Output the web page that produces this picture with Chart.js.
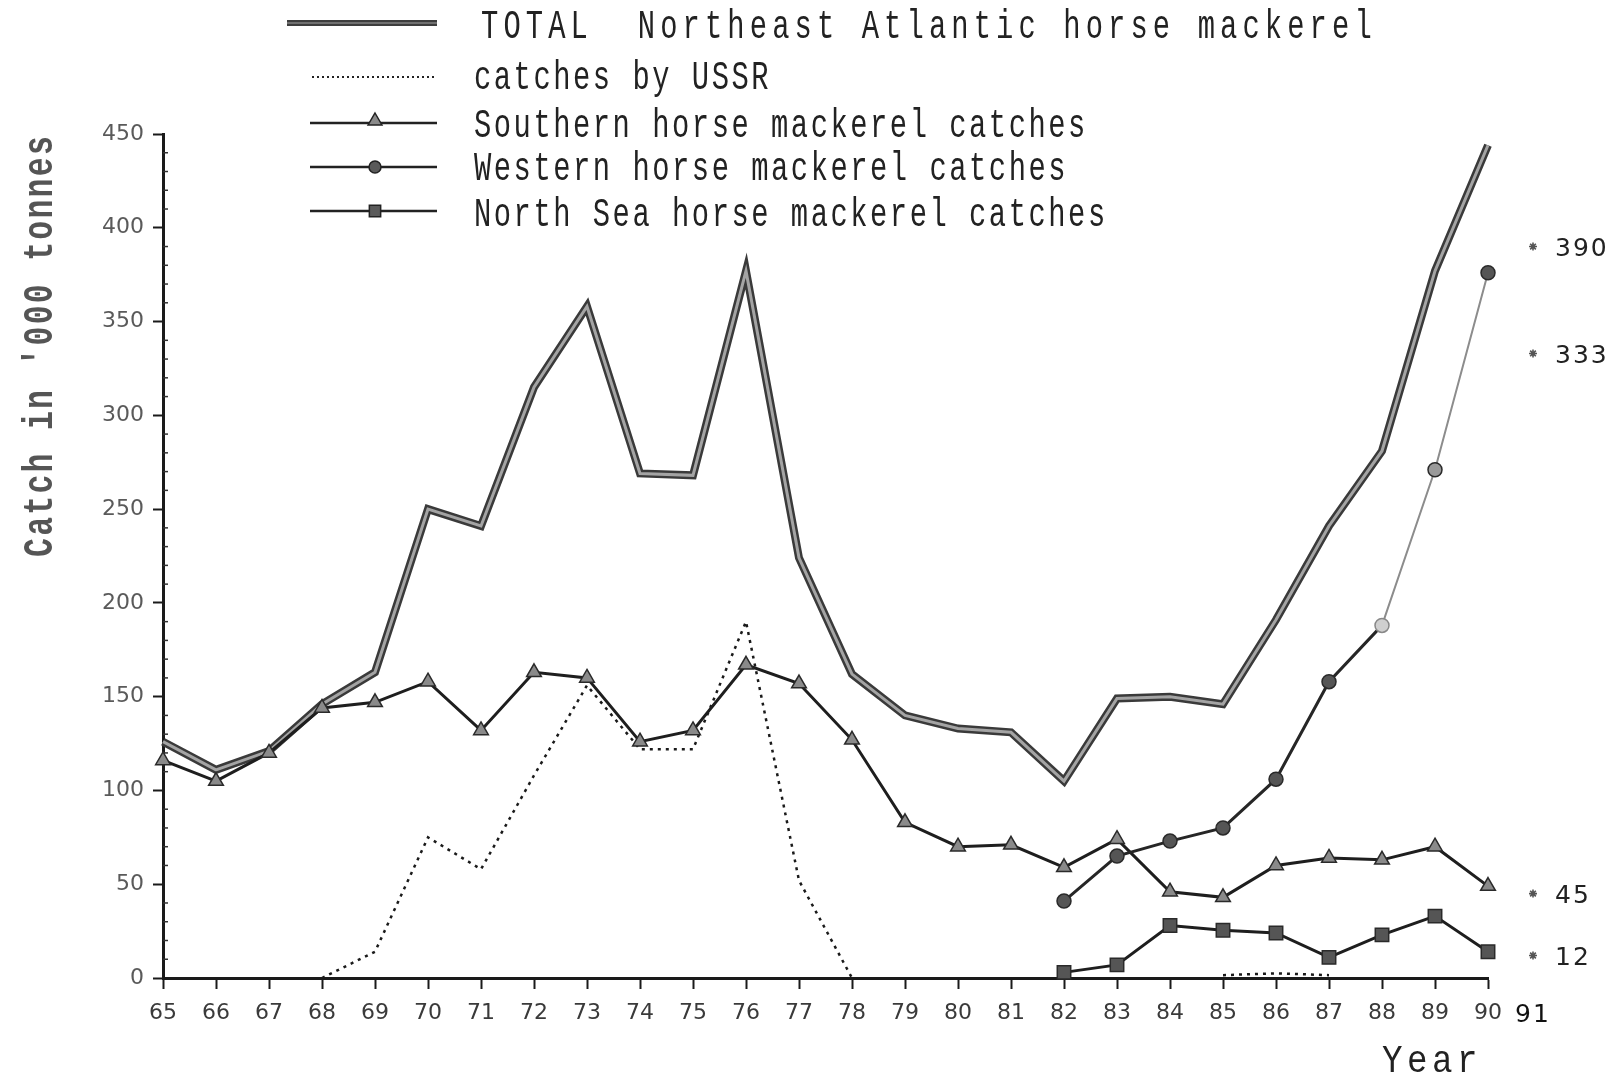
<!DOCTYPE html>
<html>
<head>
<meta charset="utf-8">
<title>Northeast Atlantic horse mackerel catches</title>
<script src="https://cdn.jsdelivr.net/npm/chart.js@4.4.1/dist/chart.umd.min.js"></script>
<style>
  html, body { margin: 0; padding: 0; background: #fff; }
  #wrap { width: 1616px; height: 1080px; position: relative; }
</style>
</head>
<body>
<div id="wrap"><canvas id="chart" width="1616" height="1080"></canvas></div>
<script>
// Years 1965-1990 (two-digit labels on the axis)
const years = [65, 66, 67, 68, 69, 70, 71, 72, 73, 74, 75, 76, 77, 78, 79, 80, 81, 82, 83, 84, 85, 86, 87, 88, 89, 90];

// Catches in '000 tonnes
const totalCatch = [126, 111, 121, 146, 163, 250, 241, 315, 358, 269, 268, 377, 224, 162, 140, 133, 131, 105, 149, 150, 146, 191, 241, 281, 377, 444];
const ussrCatch = [null, null, null, 0, 14, 75, 58, 108, 156, 122, 122, 190, 52, 0, null, null, null, null, null, null, 1.5, 2.5, 1.5, null, null, null];
const southernCatch = [116, 105, 120, 144, 147, 158, 132, 163, 160, 126, 132, 167, 157, 127, 83, 70, 71, 59, 74, 46, 43, 60, 64, 63, 70, 49];
const westernCatch = [null, null, null, null, null, null, null, null, null, null, null, null, null, null, null, null, null, 41, 65, 73, 80, 106, 158, 188, 271, 376];
const northSeaCatch = [null, null, null, null, null, null, null, null, null, null, null, null, null, null, null, null, null, 3, 7, 28, 25.5, 24, 11, 23, 33, 14];

// Preliminary 1991 figures, written beside the end of the axis
const year1991 = 91;
const values1991 = [390, 333, 45, 12];

// Axis ticks
const yMajorTicks = [0, 50, 100, 150, 200, 250, 300, 350, 400, 450];

const legendLabels = [
  'TOTAL  Northeast Atlantic horse mackerel',
  'catches by USSR',
  'Southern horse mackerel catches',
  'Western horse mackerel catches',
  'North Sea horse mackerel catches'
];

const yTitle = "Catch in '000 tonnes";
const xTitle = 'Year';

// the 1991 column sits a little closer to the axis end than a full year step
const col1991Shift = -8;

const toXY = arr => years.map((yr, i) => ({ x: yr, y: arr[i] }));

function drawMarker(ctx, style, x, y, r) {
  ctx.beginPath();
  if (style === 'triangle') {
    ctx.moveTo(x, y - r);
    ctx.lineTo(x + r * 0.866, y + r * 0.5);
    ctx.lineTo(x - r * 0.866, y + r * 0.5);
    ctx.closePath();
  } else if (style === 'circle') {
    ctx.arc(x, y, r, 0, Math.PI * 2);
  } else if (style === 'rect') {
    const s = r * Math.SQRT1_2;
    ctx.rect(x - s, y - s, 2 * s, 2 * s);
  }
  ctx.fill();
  ctx.stroke();
}

function scaledText(ctx, text, x, y, opts) {
  ctx.save();
  ctx.font = opts.font;
  ctx.fillStyle = opts.color || '#222';
  ctx.textBaseline = opts.baseline || 'alphabetic';
  ctx.textAlign = 'left';
  ctx.letterSpacing = (opts.spacing || 0) + 'px';
  ctx.translate(x, y);
  if (opts.rotate) ctx.rotate(opts.rotate);
  ctx.scale(opts.sx || 1, 1);
  ctx.fillText(text, 0, 0);
  ctx.restore();
}

const decorations = {
  id: 'decorations',
  afterDatasetsDraw(chart) {
    const ctx = chart.ctx;
    const xs = chart.scales.x;
    const ys = chart.scales.y;

    // 1991 marks with their values
    const px = xs.getPixelForValue(year1991) + col1991Shift;
    values1991.forEach(v => {
      const py = ys.getPixelForValue(v);
      ctx.save();
      ctx.strokeStyle = '#555';
      ctx.lineWidth = 1.6;
      ctx.beginPath();
      for (let k = 0; k < 4; k++) {
        const a = k * Math.PI / 4;
        ctx.moveTo(px - 4 * Math.cos(a), py - 4 * Math.sin(a));
        ctx.lineTo(px + 4 * Math.cos(a), py + 4 * Math.sin(a));
      }
      ctx.stroke();
      ctx.restore();
      ctx.save();
      ctx.font = '25px "DejaVu Sans"';
      ctx.fillStyle = '#222';
      ctx.textAlign = 'left';
      ctx.textBaseline = 'middle';
      ctx.letterSpacing = '2px';
      ctx.fillText(String(v), px + 22, py + 3);
      ctx.restore();
    });
  },
  afterDraw(chart) {
    const ctx = chart.ctx;
    const xs = chart.scales.x;
    const ys = chart.scales.y;
    const area = chart.chartArea;

    // minor ticks on the inside of the value axis
    ctx.save();
    ctx.strokeStyle = '#333';
    ctx.lineWidth = 1.5;
    for (let v = 0; v <= 450; v += 10) {
      if (yMajorTicks.includes(v)) continue;
      const py = ys.getPixelForValue(v);
      ctx.beginPath();
      ctx.moveTo(area.left, py);
      ctx.lineTo(area.left + 5, py);
      ctx.stroke();
    }
    ctx.restore();

    // extra year label past the end of the axis
    ctx.save();
    ctx.font = '25px "DejaVu Sans"';
    ctx.fillStyle = '#111';
    ctx.textAlign = 'center';
    ctx.textBaseline = 'top';
    ctx.letterSpacing = '2px';
    ctx.fillText(String(year1991), xs.getPixelForValue(year1991) + col1991Shift, area.bottom + 25);
    ctx.restore();

    // axis titles
    scaledText(ctx, yTitle, 52, 557, { font: 'bold 42px "Liberation Mono"', color: '#555', sx: 0.75, spacing: 3, rotate: -Math.PI / 2 });
    scaledText(ctx, xTitle, 1382, 1072, { font: '38px "Liberation Mono"', color: '#222', sx: 0.9, spacing: 5 });

    // legend
    const rows = [
      { lineY: 23, baseY: 38, x0: 287, tx: 481, spacing: 7.1 },
      { lineY: 77, baseY: 89, x0: 312, tx: 474, spacing: 3.5 },
      { lineY: 123, baseY: 137, x0: 310, tx: 474, spacing: 3.5 },
      { lineY: 167, baseY: 180, x0: 310, tx: 474, spacing: 3.5 },
      { lineY: 211, baseY: 226, x0: 310, tx: 474, spacing: 3.5 }
    ];
    const x1 = 437, mx = 375;
    rows.forEach((r, i) => {
      ctx.save();
      ctx.lineCap = 'butt';
      if (i === 0) {
        ctx.strokeStyle = '#3d3d3d'; ctx.lineWidth = 6;
        ctx.beginPath(); ctx.moveTo(r.x0, r.lineY); ctx.lineTo(x1, r.lineY); ctx.stroke();
        ctx.strokeStyle = '#707070'; ctx.lineWidth = 2;
        ctx.beginPath(); ctx.moveTo(r.x0, r.lineY); ctx.lineTo(x1, r.lineY); ctx.stroke();
      } else if (i === 1) {
        ctx.strokeStyle = '#222'; ctx.lineWidth = 2;
        ctx.setLineDash([2, 3]);
        ctx.beginPath(); ctx.moveTo(r.x0, r.lineY); ctx.lineTo(x1, r.lineY); ctx.stroke();
      } else {
        ctx.strokeStyle = '#222'; ctx.lineWidth = 2.5;
        ctx.beginPath(); ctx.moveTo(r.x0, r.lineY); ctx.lineTo(x1, r.lineY); ctx.stroke();
        ctx.lineWidth = 1.5;
        ctx.fillStyle = i === 2 ? '#8a8a8a' : '#5a5a5a';
        const style = i === 2 ? 'triangle' : (i === 3 ? 'circle' : 'rect');
        drawMarker(ctx, style, mx, r.lineY - (i === 2 ? 2 : 0), i === 3 ? 6 : 8);
      }
      ctx.restore();
      scaledText(ctx, legendLabels[i], r.tx, r.baseY, { font: '40px "Liberation Mono"', color: '#222', sx: 0.72, spacing: r.spacing });
    });
  }
};

new Chart(document.getElementById('chart'), {
  type: 'line',
  data: {
    datasets: [
      {
        label: 'TOTAL Northeast Atlantic horse mackerel',
        data: toXY(totalCatch),
        borderColor: '#3a3a3a', borderWidth: 8, pointRadius: 0,
        order: 10, clip: false
      },
      {
        label: 'TOTAL (inner)',
        data: toXY(totalCatch),
        borderColor: '#a4a4a4', borderWidth: 3, pointRadius: 0,
        order: 9, clip: false
      },
      {
        label: 'catches by USSR',
        data: toXY(ussrCatch),
        borderColor: '#1a1a1a', borderWidth: 2.5, borderDash: [3, 5], pointRadius: 0,
        spanGaps: false, order: 5, clip: false
      },
      {
        label: 'Southern horse mackerel catches',
        data: toXY(southernCatch),
        borderColor: '#1e1e1e', borderWidth: 3,
        pointStyle: 'triangle', pointRadius: 8.5, pointBackgroundColor: '#8a8a8a',
        pointBorderColor: '#2a2a2a', pointBorderWidth: 1.5,
        order: 3, clip: false
      },
      {
        label: 'Western horse mackerel catches',
        data: toXY(westernCatch),
        borderColor: '#262626', borderWidth: 3,
        segment: {
          borderColor: c => c.p0.parsed.x >= 88 ? '#8c8c8c' : '#262626',
          borderWidth: c => c.p0.parsed.x >= 88 ? 2 : 3
        },
        pointStyle: 'circle', pointRadius: 7,
        pointBackgroundColor: c => (c.raw && c.raw.x === 88) ? '#cfcfcf' : (c.raw && c.raw.x === 89 ? '#9a9a9a' : '#555'),
        pointBorderColor: c => (c.raw && c.raw.x === 88) ? '#888' : '#2a2a2a',
        pointBorderWidth: 1.5,
        order: 2, clip: false
      },
      {
        label: 'North Sea horse mackerel catches',
        data: toXY(northSeaCatch),
        borderColor: '#1e1e1e', borderWidth: 3,
        pointStyle: 'rect', pointRadius: 9.5, pointBackgroundColor: '#555',
        pointBorderColor: '#2a2a2a', pointBorderWidth: 1.5,
        order: 1, clip: false
      }
    ]
  },
  options: {
    responsive: false,
    animation: false,
    devicePixelRatio: 1,
    layout: { padding: { top: 134, right: 128, bottom: 0, left: 0 } },
    plugins: { legend: { display: false }, tooltip: { enabled: false } },
    scales: {
      x: {
        type: 'linear', min: 65, max: 90,
        afterFit: s => { s.height = 102; },
        border: { display: true, color: '#1a1a1a', width: 3 },
        grid: { drawOnChartArea: false, drawTicks: true, tickLength: 11, tickWidth: 2, tickColor: '#1a1a1a' },
        ticks: {
          stepSize: 1, autoSkip: false, maxRotation: 0, padding: 11,
          font: { family: 'DejaVu Sans', size: 22 }, color: '#3a3a3a',
          callback: v => String(v)
        }
      },
      y: {
        min: 0, max: 450,
        afterFit: s => { s.width = 163; },
        border: { display: true, color: '#1a1a1a', width: 3 },
        grid: {
          drawOnChartArea: false, drawTicks: true, tickLength: 10, tickWidth: 2,
          tickColor: c => (c.tick && yMajorTicks.includes(c.tick.value)) ? '#1a1a1a' : 'rgba(0,0,0,0)'
        },
        ticks: {
          stepSize: 10, autoSkip: false, padding: 9,
          font: { family: 'DejaVu Sans', size: 22 }, color: '#5a5a5a',
          callback: v => yMajorTicks.includes(v) ? String(v) : ''
        }
      }
    }
  },
  plugins: [decorations]
});
</script>
</body>
</html>
